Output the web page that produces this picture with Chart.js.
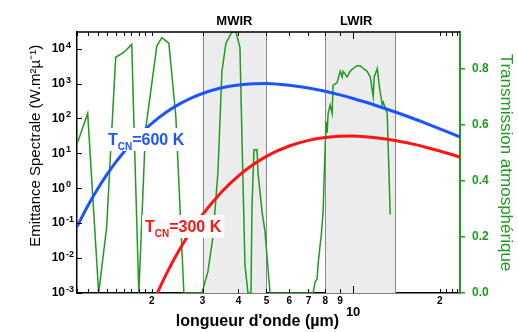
<!DOCTYPE html>
<html>
<head>
<meta charset="utf-8">
<script src="https://cdn.jsdelivr.net/npm/chart.js@4.4.0/dist/chart.umd.min.js"></script>
<style>
  body { margin: 0; background: #fff; }
  #wrap { width: 518px; height: 332px; }
</style>
</head>
<body>
<div id="wrap"><canvas id="chart" width="518" height="332"></canvas></div>
<script>
// Planck curves, wavelength in µm, emittance in W.m-2.µm-1
const lambda600 = [1.1, 1.2, 1.3, 1.4, 1.5, 1.6, 1.7, 1.85, 2, 2.25, 2.5, 2.75, 3, 3.5, 4, 4.5, 5, 5.5, 6, 7, 8, 9, 10, 11, 12, 14, 16, 18, 20, 22, 23.5];
const emit600 = [0.079, 0.315, 0.98, 2.53, 5.6, 11.0, 19.7, 40.5, 72.6, 153, 262, 389, 520, 755, 913, 988, 998, 962, 901, 748, 600, 475, 374, 296, 236, 153, 103, 71, 50.5, 36.8, 29.4];

const lambda300 = [2, 2.25, 2.5, 2.75, 3, 3.5, 4, 4.5, 5, 5.5, 6, 7, 8, 9, 10, 11, 12, 14, 16, 18, 20, 22, 23.5];
const emit300 = [0.00045, 0.0036, 0.0179, 0.0634, 0.176, 0.797, 2.27, 4.77, 8.18, 12.1, 16.3, 23.6, 28.5, 30.9, 31.2, 30.1, 28.2, 23.4, 18.7, 14.8, 11.7, 9.25, 7.8];

// atmospheric transmission
const lambdaAtm = [1.105, 1.198, 1.308, 1.395, 1.44, 1.499, 1.598, 1.704, 1.731, 1.803, 1.902, 2.082, 2.167, 2.292, 2.424, 2.585,
  2.985, 3.131, 3.261, 3.394, 3.504, 3.618, 3.796, 3.919, 4.047, 4.113, 4.212, 4.315, 4.42, 4.456, 4.528, 4.638, 4.675, 4.827, 4.943, 5.146,
  7.262, 7.38, 7.499, 7.556, 7.68, 7.743, 7.87, 7.932, 8.0, 8.06, 8.12, 8.19, 8.32, 8.455, 8.52, 8.8, 9.02, 9.16, 9.23, 9.53, 9.76,
  10.0, 10.33, 10.58, 10.84, 11.19, 11.47, 11.74, 11.84, 12.13, 12.32, 12.62, 12.72, 13.03, 13.13, 13.24, 13.45];
const transAtm = [0.536, 0.64, 0, 0.236, 0.51, 0.84, 0.857, 0.886, 0.63, 0, 0.58, 0.88, 0.91, 0.89, 0.63, 0,
  0, 0.075, 0.2, 0.43, 0.79, 0.89, 0.93, 0.93, 0.875, 0.55, 0.1, 0, 0, 0.31, 0.51, 0.51, 0.43, 0.29, 0.22, 0,
  0, 0.04, 0.05, 0.1, 0.17, 0.2, 0.29, 0.41, 0.53, 0.61, 0.57, 0.64, 0.67, 0.64, 0.74, 0.75, 0.79, 0.77, 0.79, 0.77, 0.79,
  0.8, 0.81, 0.81, 0.8, 0.79, 0.77, 0.7, 0.77, 0.8, 0.74, 0.67, 0.68, 0.65, 0.64, 0.52, 0.28];

const bands = [[3, 5], [8, 14]];
const bandNames = ['MWIR', 'LWIR'];
const bandLabelAt = [3.87, 10.25];

const xTickValues = [2, 3, 4, 5, 6, 7, 8, 9, 10, 20];
const xTickLabels = ['2', '3', '4', '5', '6', '7', '8', '9', ['', '10'], '2'];
const yTickValues = [1e-3, 1e-2, 1e-1, 1, 10, 100, 1000, 10000];
const yTickExps = ['-3', '-2', '-1', '0', '1', '2', '3', '4'];
const tTickValues = [0, 0.2, 0.4, 0.6, 0.8];
const tTickLabels = ['0.0', '0.2', '0.4', '0.6', '0.8'];

const BLUE = '#1a55ff';
const RED = '#ff1414';
const GREEN = '#1f9a1f';
const FONT = "'Liberation Sans', Arial, sans-serif";

Chart.defaults.font.family = FONT;

const toPoints = (xs, ys) => xs.map((x, i) => ({ x: x, y: ys[i] }));

// shaded bands + their titles
const bandPlugin = {
    id: 'bands',
    beforeDatasetsDraw(chart) {
        const { ctx, chartArea: a, scales } = chart;
        ctx.save();
        bands.forEach((b, i) => {
            const x1 = scales.x.getPixelForValue(b[0]);
            const x2 = scales.x.getPixelForValue(b[1]);
            ctx.fillStyle = '#ececec';
            ctx.fillRect(x1, a.top, x2 - x1, a.bottom - a.top);
            ctx.strokeStyle = '#8a8a8a';
            ctx.lineWidth = 1;
            ctx.beginPath();
            ctx.moveTo(Math.round(x1) + 0.5, a.top);
            ctx.lineTo(Math.round(x1) + 0.5, a.bottom);
            ctx.moveTo(Math.round(x2) + 0.5, a.top);
            ctx.lineTo(Math.round(x2) + 0.5, a.bottom);
            ctx.stroke();
            ctx.fillStyle = '#000';
            ctx.font = 'bold 13px ' + FONT;
            ctx.textAlign = 'center';
            ctx.textBaseline = 'middle';
            ctx.fillText(bandNames[i], scales.x.getPixelForValue(bandLabelAt[i]), 21);
        });
        ctx.restore();
    }
};

function drawTag(ctx, x, y, color, rest) {
    ctx.font = 'bold 16px ' + FONT;
    const wT = ctx.measureText('T').width;
    const wR = ctx.measureText(rest).width;
    ctx.font = 'bold 10px ' + FONT;
    const wS = ctx.measureText('CN').width;
    ctx.fillStyle = '#fff';
    ctx.fillRect(x - 3, y - 17, wT + wS + wR + 6, 23);
    ctx.fillStyle = color;
    ctx.textAlign = 'left';
    ctx.textBaseline = 'alphabetic';
    ctx.font = 'bold 16px ' + FONT;
    ctx.fillText('T', x, y);
    ctx.fillText(rest, x + wT + wS, y);
    ctx.font = 'bold 10px ' + FONT;
    ctx.fillText('CN', x + wT, y + 5);
}

const tagPlugin = {
    id: 'tags',
    afterDatasetsDraw(chart) {
        const ctx = chart.ctx;
        ctx.save();
        drawTag(ctx, 108, 145, BLUE, '=600 K');
        drawTag(ctx, 145, 232, RED, '=300 K');
        ctx.restore();
    }
};

// closed frame with inward ticks, plus the exponents of the left labels
const framePlugin = {
    id: 'frame',
    afterDraw(chart) {
        const { ctx, chartArea: a, scales } = chart;
        ctx.save();
        ctx.strokeStyle = '#000';
        ctx.lineWidth = 1.5;
        ctx.beginPath();
        ctx.moveTo(a.left, a.top);
        ctx.lineTo(a.right, a.top);
        ctx.stroke();

        const minor = [];
        for (let d = 1; d <= 10; d *= 10) {
            for (let k = 1; k < 10; k++) {
                for (let f = 0; f < 10; f += (d === 1 && k === 1) ? 1 : 10) {
                    const v = d * (k + f / 10);
                    if (v > 1.05 && v < 24) minor.push(v);
                }
            }
        }
        minor.push(20, 21, 22, 23);
        ctx.lineWidth = 1;
        ctx.beginPath();
        minor.forEach(v => {
            const px = Math.round(scales.x.getPixelForValue(v)) + 0.5;
            const len = v === 10 ? 7 : 4;
            ctx.moveTo(px, a.bottom);
            ctx.lineTo(px, a.bottom - len);
            ctx.moveTo(px, a.top);
            ctx.lineTo(px, a.top + len);
        });
        yTickValues.forEach(v => {
            const py = Math.round(scales.y.getPixelForValue(v)) + 0.5;
            ctx.moveTo(a.left, py);
            ctx.lineTo(a.left + 5, py);
        });
        ctx.stroke();

        ctx.fillStyle = '#000';
        ctx.font = 'bold 9px ' + FONT;
        ctx.textAlign = 'left';
        ctx.textBaseline = 'alphabetic';
        yTickValues.forEach((v, i) => {
            const py = scales.y.getPixelForValue(v);
            ctx.fillText(yTickExps[i], 66, py - 1);
        });
        ctx.restore();
    }
};

new Chart(document.getElementById('chart'), {
    type: 'line',
    data: {
        datasets: [
            {
                data: toPoints(lambda600, emit600),
                borderColor: BLUE,
                borderWidth: 3,
                pointRadius: 0,
                cubicInterpolationMode: 'monotone',
                yAxisID: 'y'
            },
            {
                data: toPoints(lambda300, emit300),
                borderColor: RED,
                borderWidth: 3,
                pointRadius: 0,
                cubicInterpolationMode: 'monotone',
                yAxisID: 'y'
            },
            {
                data: toPoints(lambdaAtm, transAtm),
                borderColor: GREEN,
                borderWidth: 1.5,
                pointRadius: 0,
                tension: 0,
                yAxisID: 'y2'
            }
        ]
    },
    options: {
        responsive: false,
        animation: false,
        layout: { padding: { top: 32 } },
        plugins: { legend: { display: false }, tooltip: { enabled: false } },
        scales: {
            x: {
                type: 'logarithmic',
                position: 'bottom',
                min: 1.1,
                max: 23.5,
                afterFit: s => { s.height = 39; },
                afterBuildTicks: s => { s.ticks = xTickValues.map(v => ({ value: v })); },
                grid: { drawOnChartArea: false, drawTicks: false },
                border: { color: '#000', width: 1.5 },
                ticks: {
                    autoSkip: false,
                    maxRotation: 0,
                    padding: 2,
                    color: '#000',
                    font: c => (c.tick && c.tick.value === 10)
                        ? { size: 13, weight: 'bold', lineHeight: 0.9 }
                        : { size: 10, weight: 'bold' },
                    callback: (v, i) => xTickLabels[i]
                },
                title: {
                    display: true,
                    text: "longueur d'onde (µm)     ",
                    color: '#000',
                    font: { size: 16, weight: 'bold' },
                    padding: { top: 0, bottom: 1 }
                }
            },
            y: {
                type: 'logarithmic',
                position: 'left',
                min: 1e-3,
                max: 3e4,
                afterFit: s => { s.width = 77; },
                afterBuildTicks: s => { s.ticks = yTickValues.map(v => ({ value: v })); },
                grid: { drawOnChartArea: false, drawTicks: false },
                border: { color: '#000', width: 1.5 },
                ticks: {
                    padding: 12,
                    color: '#000',
                    font: { size: 12, weight: 'bold' },
                    callback: () => '10'
                },
                title: {
                    display: true,
                    text: '        Emittance Spectrale (W.m²µ⁻¹)',
                    color: '#000',
                    font: { size: 15 },
                    padding: { top: 27, bottom: 0 }
                }
            },
            y2: {
                type: 'linear',
                position: 'right',
                min: 0,
                max: 0.93,
                afterFit: s => { s.width = 58; },
                afterBuildTicks: s => { s.ticks = tTickValues.map(v => ({ value: v })); },
                grid: { drawOnChartArea: false, drawTicks: true, tickLength: 5, color: GREEN, lineWidth: 1.5 },
                border: { color: GREEN, width: 2 },
                ticks: {
                    padding: 7,
                    color: GREEN,
                    font: { size: 12, weight: 'bold' },
                    callback: (v, i) => tTickLabels[i]
                },
                title: {
                    display: true,
                    text: 'Transmission atmosphérique',
                    color: GREEN,
                    font: { size: 17 },
                    padding: { top: 2, bottom: 0 }
                }
            }
        }
    },
    plugins: [bandPlugin, tagPlugin, framePlugin]
});
</script>
</body>
</html>
